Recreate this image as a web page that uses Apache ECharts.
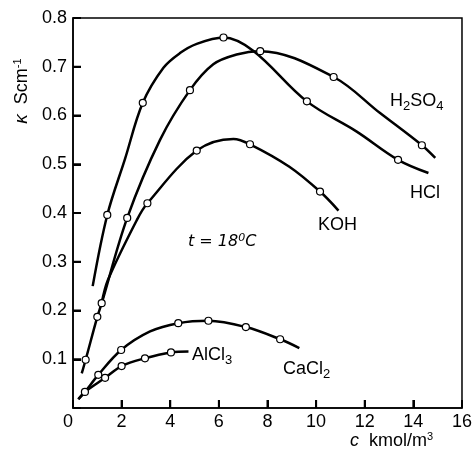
<!DOCTYPE html>
<html style="height: 100%">
<head>
    <script src="https://cdn.jsdelivr.net/npm/echarts@6.0.0/dist/echarts.min.js"></script>
</head>
<body style="height: 100%; margin: 0; background: #fff">
    <div id="main" style="width: 475px; height: 459px"></div>
    <script type="text/javascript">
    // curve shape points [c, kappa] and the measured (circled) points
    var hclCurve = [[0.81,0.25],[1.41,0.396],[2.14,0.511],[2.87,0.626],[3.72,0.698],[4.4,0.728],[5.09,0.747],[6.19,0.76],[7.41,0.733],[9.62,0.629],[11.67,0.567],[13.37,0.509],[14.62,0.482]];
    var hclDots = [[1.41,0.396],[2.87,0.626],[6.19,0.76],[9.62,0.629],[13.37,0.509]];

    var h2so4Curve = [[0.36,0.071],[0.52,0.099],[1.0,0.187],[1.18,0.215],[2.23,0.39],[3.58,0.55],[4.81,0.652],[5.77,0.705],[6.73,0.725],[7.7,0.732],[10.72,0.679],[12.63,0.605],[14.35,0.539],[14.9,0.513]];
    var h2so4Dots = [[0.52,0.099],[1.0,0.187],[1.18,0.215],[2.23,0.39],[4.81,0.652],[7.7,0.732],[10.72,0.679],[14.35,0.539]];

    var kohCurve = [[1.18,0.215],[1.44,0.263],[2.63,0.386],[3.06,0.42],[5.09,0.528],[6.6,0.552],[7.28,0.541],[8.9,0.495],[10.16,0.444],[10.92,0.405]];
    var kohDots = [[3.06,0.42],[5.09,0.528],[7.28,0.541],[10.16,0.444]];

    var cacl2Curve = [[0.22,0.018],[0.49,0.033],[1.04,0.068],[1.98,0.119],[3.17,0.157],[4.33,0.174],[5.57,0.179],[7.11,0.166],[8.52,0.141],[9.31,0.123]];
    var cacl2Dots = [[0.49,0.033],[1.04,0.068],[1.98,0.119],[4.33,0.174],[5.57,0.179],[7.11,0.166],[8.52,0.141]];

    var alcl3Curve = [[0.22,0.018],[0.49,0.033],[1.32,0.062],[2.0,0.086],[2.96,0.102],[4.03,0.114],[4.75,0.116]];
    var alcl3Dots = [[1.32,0.062],[2.0,0.086],[2.96,0.102],[4.03,0.114]];

    var xTicks = [0, 16, 2];
    var yTicks = [0, 0.8, 0.1];

    var chartDom = document.getElementById('main');
    var myChart = echarts.init(chartDom);

    var font = 'Liberation Sans, Arial, sans-serif';

    function curve(data) {
        return {
            type: 'line',
            data: data,
            smooth: 0.35,
            symbol: 'none',
            lineStyle: { color: '#000', width: 2.5 },
            z: 2
        };
    }
    function dots(data) {
        return {
            type: 'scatter',
            data: data,
            symbol: 'circle',
            symbolSize: 7,
            itemStyle: { color: '#fff', borderColor: '#000', borderWidth: 1.2, opacity: 1 },
            z: 3
        };
    }

    // tick positions: [x, y, side] side 0 = bottom axis, 1 = left axis
    var tickData = [];
    for (var i = 1; xTicks[0] + i * xTicks[2] < xTicks[1]; i++) {
        tickData.push([xTicks[0] + i * xTicks[2], yTicks[0], 0]);
    }
    for (var j = 1; yTicks[0] + j * yTicks[2] < yTicks[1] + 1e-9; j++) {
        tickData.push([xTicks[0], +(yTicks[0] + j * yTicks[2]).toFixed(2), 1]);
    }

    var sub = { fontSize: 13, fontFamily: font, color: '#000', padding: [10, 0, 0, 0] };
    var sup = { fontSize: 11, fontFamily: font, color: '#000', padding: [0, 0, 8, 0] };

    var option = {
        backgroundColor: '#fff',
        animation: false,
        grid: {
            left: 73, top: 18, width: 389, height: 390,
            show: true, borderColor: '#000', borderWidth: 1.5
        },
        xAxis: {
            type: 'value',
            min: xTicks[0], max: xTicks[1], interval: xTicks[2],
            axisLine: { show: true, lineStyle: { color: '#000', width: 1.5 } },
            axisTick: { show: true, inside: true, length: 8, lineStyle: { color: '#000', width: 2 } },
            axisLabel: { color: '#000', fontSize: 18, fontFamily: font, margin: 5, alignMinLabel: 'right' },
            splitLine: { show: false }
        },
        yAxis: {
            type: 'value',
            min: yTicks[0], max: yTicks[1], interval: yTicks[2],
            axisLine: { show: true, lineStyle: { color: '#000', width: 1.5 } },
            axisTick: { show: true, inside: true, length: 8, lineStyle: { color: '#000', width: 2 } },
            axisLabel: {
                color: '#000', fontSize: 18, fontFamily: font, margin: 6,
                formatter: function (v) { return v === 0 ? '' : v.toFixed(1); }
            },
            splitLine: { show: false }
        },
        graphic: [
            {
                type: 'text', x: 22, y: 91, rotation: Math.PI / 2,
                style: {
                    text: '{k|κ}  Scm{p|-1}', fill: '#000', align: 'center', verticalAlign: 'middle',
                    rich: {
                        k: { fontSize: 19, fontFamily: font, fontStyle: 'italic', color: '#000' },
                        p: sup
                    },
                    fontSize: 18, fontFamily: font
                }
            },
            {
                type: 'text', x: 350, y: 441,
                style: {
                    text: '{c|c}  kmol/m{p|3}', fill: '#000', verticalAlign: 'middle',
                    rich: {
                        c: { fontSize: 18, fontFamily: font, fontStyle: 'italic', color: '#000' },
                        p: sup
                    },
                    fontSize: 18, fontFamily: font
                }
            },
            {
                type: 'text', x: 390, y: 101,
                style: { text: 'H{s|2}SO{s|4}', rich: { s: sub }, fill: '#000', fontSize: 18, fontFamily: font, verticalAlign: 'middle' }
            },
            {
                type: 'text', x: 410, y: 193,
                style: { text: 'HCl', fill: '#000', fontSize: 18, fontFamily: font, verticalAlign: 'middle' }
            },
            {
                type: 'text', x: 318, y: 225,
                style: { text: 'KOH', fill: '#000', fontSize: 18, fontFamily: font, verticalAlign: 'middle' }
            },
            {
                type: 'text', x: 192, y: 355,
                style: { text: 'AlCl{s|3}', rich: { s: sub }, fill: '#000', fontSize: 18, fontFamily: font, verticalAlign: 'middle' }
            },
            {
                type: 'text', x: 283, y: 369,
                style: { text: 'CaCl{s|2}', rich: { s: sub }, fill: '#000', fontSize: 18, fontFamily: font, verticalAlign: 'middle' }
            },
            {
                type: 'text', x: 188, y: 242,
                style: {
                    text: 't = 18{p|0}C', fill: '#000', fontSize: 16, fontStyle: 'italic',
                    fontFamily: 'DejaVu Sans, sans-serif', verticalAlign: 'middle',
                    rich: { p: { fontSize: 11, fontStyle: 'italic', fontFamily: 'DejaVu Sans, sans-serif', color: '#000', padding: [0, 0, 8, 0] } }
                }
            }
        ],
        series: [
            curve(hclCurve), dots(hclDots),
            curve(h2so4Curve), dots(h2so4Dots),
            curve(kohCurve), dots(kohDots),
            curve(cacl2Curve), dots(cacl2Dots),
            curve(alcl3Curve), dots(alcl3Dots),
            {
                type: 'custom',
                data: tickData,
                silent: true,
                clip: false,
                z: 4,
                renderItem: function (params, api) {
                    var p = api.coord([api.value(0), api.value(1)]);
                    var left = api.value(2) === 1;
                    return {
                        type: 'line',
                        shape: {
                            x1: p[0], y1: p[1],
                            x2: left ? p[0] + 8 : p[0],
                            y2: left ? p[1] : p[1] - 8
                        },
                        style: { stroke: '#000', lineWidth: 2 }
                    };
                }
            }
        ]
    };

    myChart.setOption(option);
    </script>
</body>
</html>
